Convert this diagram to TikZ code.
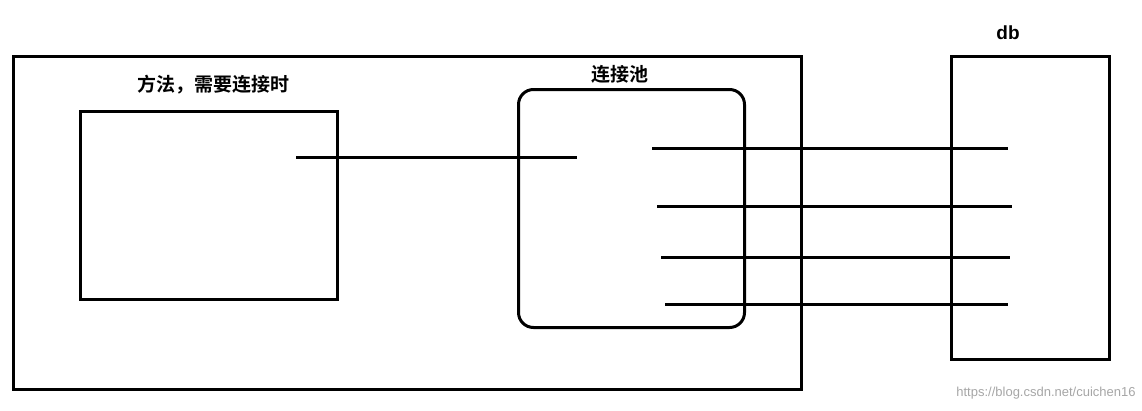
\documentclass[tikz,border=0pt]{standalone}
\usepackage{fontspec}
\newfontfamily\cjk{Noto Sans CJK SC}[BoldFont={Noto Sans CJK SC Bold}]
\setsansfont{Liberation Sans}
\begin{document}
\begin{tikzpicture}[x=1pt,y=-1pt,
  box/.style={draw=black,line width=3pt,inner sep=0pt,anchor=north west},
  wire/.style={draw=black,line width=3pt},
  lbl/.style={font=\cjk\bfseries\fontsize{19}{22}\selectfont}]
\useasboundingbox (0,0) rectangle (1142,410);
\node[box,minimum width=788pt,minimum height=333pt] (outer) at (12,55) {};
\node[box,minimum width=257pt,minimum height=188pt] (method) at (79,110) {};
\node[box,rounded corners=15pt,minimum width=226pt,minimum height=238pt] (pool) at (517,88) {};
\node[box,minimum width=158pt,minimum height=303pt] (db) at (950,55) {};
\node[lbl] (tm) at (213,85) {方法，需要连接时};
\node[lbl] (tp) at (620,74) {连接池};
\node[font=\sffamily\bfseries\fontsize{19}{22}\selectfont] (td) at (1008,33) {db};
\node[font=\sffamily\fontsize{13}{15}\selectfont,text=black!35] (wm) at (1046,393) {https://blog.csdn.net/cuichen16};
\coordinate (a1) at (296,157); \coordinate (a2) at (577,157);
\coordinate (b1) at (652,148); \coordinate (b2) at (1008,148);
\coordinate (c1) at (657,206); \coordinate (c2) at (1012,206);
\coordinate (d1) at (661,257); \coordinate (d2) at (1010,257);
\coordinate (e1) at (665,304); \coordinate (e2) at (1008,304);
\draw[wire] (a1) -- (a2);
\draw[wire] (b1) -- (b2);
\draw[wire] (c1) -- (c2);
\draw[wire] (d1) -- (d2);
\draw[wire] (e1) -- (e2);
\end{tikzpicture}
\end{document}
